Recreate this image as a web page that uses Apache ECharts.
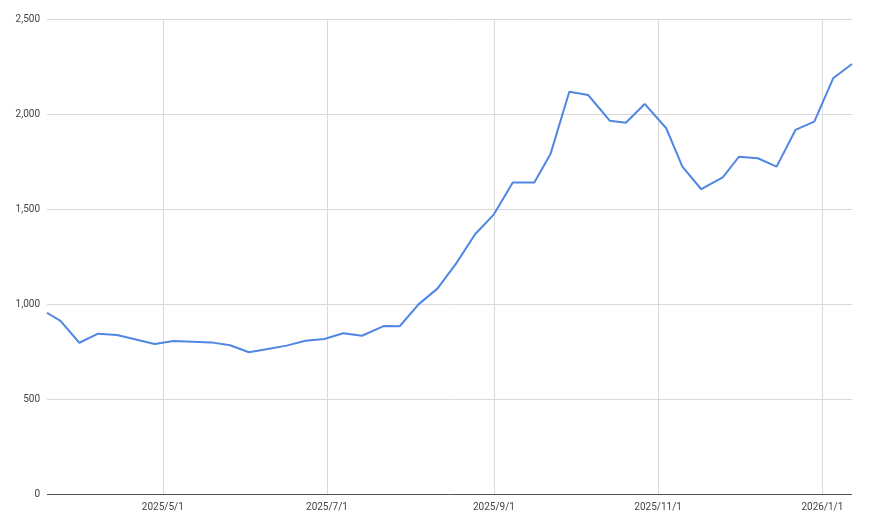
<!DOCTYPE html>
<html>
<head>
<meta charset="utf-8">
<script src="https://cdn.jsdelivr.net/npm/echarts@6/dist/echarts.min.js"></script>
<style>html,body{margin:0;padding:0;background:#fff}#c{width:870px;height:525px}</style>
</head>
<body>
<div id="c"></div>
<script>
const dates = ['2025-03-19','2025-03-24','2025-03-31','2025-04-07','2025-04-14','2025-04-28','2025-05-05','2025-05-19','2025-05-26','2025-06-02','2025-06-09','2025-06-16','2025-06-23','2025-06-30','2025-07-07','2025-07-14','2025-07-22','2025-07-28','2025-08-04','2025-08-11','2025-08-18','2025-08-25','2025-09-01','2025-09-08','2025-09-16','2025-09-22','2025-09-29','2025-10-06','2025-10-14','2025-10-20','2025-10-27','2025-11-04','2025-11-10','2025-11-17','2025-11-25','2025-12-01','2025-12-08','2025-12-15','2025-12-22','2025-12-29','2026-01-05','2026-01-12'];
const values = [954,911,796,844,837,789,805,798,783,746,763,781,807,816,846,833,884,883,998,1081,1214,1367,1472,1639,1639,1789,2117,2100,1965,1954,2053,1925,1723,1604,1667,1775,1767,1723,1916,1960,2188,2263];
const xTickDates = ['2025-05-01','2025-07-01','2025-09-01','2025-11-01','2026-01-01'];
const xMin = '2025-03-19';
const xMax = '2026-01-12';
const yTicks = [0,500,1000,1500,2000,2500];

function ts(s){ const p=s.split('-'); return new Date(+p[0], +p[1]-1, +p[2]).getTime(); }
const tickTs = xTickDates.map(ts);
const chart = echarts.init(document.getElementById('c'), null, {renderer:'canvas'});
chart.setOption({
  animation:false,
  backgroundColor:'#fff',
  grid:{left:47,right:18,top:19,bottom:31,containLabel:false},
  xAxis:{
    type:'value',
    min:ts(xMin), max:ts(xMax),
    axisLine:{show:false},
    axisTick:{show:false, customValues:tickTs},
    splitLine:{show:true, lineStyle:{color:'#d9d9d9', width:1}},
    axisLabel:{
      customValues:tickTs,
      color:'#444', fontFamily:'Roboto', fontSize:10, margin:8,
      formatter:function(v){ const d=new Date(v); return d.getFullYear()+'/'+(d.getMonth()+1)+'/'+d.getDate(); }
    }
  },
  yAxis:{
    type:'value', min:yTicks[0], max:yTicks[yTicks.length-1], interval:500,
    axisLine:{show:false}, axisTick:{show:false},
    splitLine:{show:true, lineStyle:{color:'#d9d9d9', width:1}},
    axisLabel:{color:'#444', fontFamily:'Roboto', fontSize:10, margin:7,
      formatter:function(v){ return v.toLocaleString('en-US'); }}
  },
  series:[
    {type:'line', data:dates.map((d,i)=>[ts(d),values[i]]), showSymbol:false, symbol:'none',
     lineStyle:{color:'#4f87e3', width:2}, itemStyle:{color:'#4f87e3'},
     markLine:{silent:true, symbol:'none', label:{show:false}, animation:false,
       lineStyle:{color:'#555', width:1, type:'solid'}, data:[{yAxis:0}]}}
  ]
});
</script>
</body>
</html>
